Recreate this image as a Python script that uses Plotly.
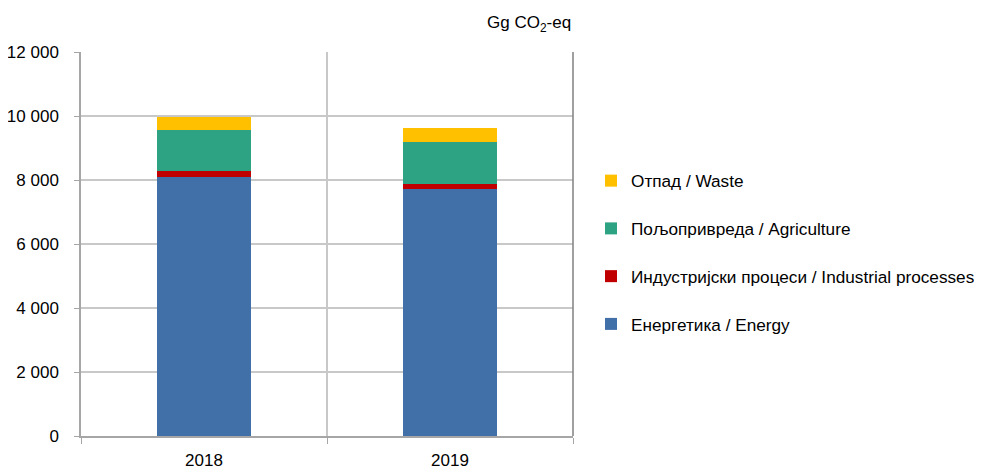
import plotly.graph_objects as go

years = ["2018", "2019"]
energy = [8100, 7720]
industrial = [180, 165]
agriculture = [1280, 1310]
waste = [420, 440]

series = [
    ("Енергетика / Energy", energy, "#4170a8"),
    ("Индустријски процеси / Industrial processes", industrial, "#c00000"),
    ("Пољопривреда / Agriculture", agriculture, "#2ea384"),
    ("Отпад / Waste", waste, "#ffc000"),
]

fig = go.Figure()
for i, (name, vals, col) in enumerate(series):
    fig.add_trace(go.Bar(x=years, y=vals, name=name, marker_color=col,
                         marker_line_width=0, legendgroup=str(i),
                         legendrank=len(series) - i))

fig.update_layout(
    barmode="stack",
    bargap=0.62,
    width=982, height=470,
    margin=dict(l=73, r=417, t=44, b=42, autoexpand=False),
    paper_bgcolor="white", plot_bgcolor="white",
    font=dict(family="Liberation Sans, Arial, sans-serif", size=17, color="#000000"),
    separators=", ",
    showlegend=True,
    legend=dict(traceorder="grouped", x=1.0366, xanchor="left", y=0.478, yanchor="middle",
                tracegroupgap=22.4, itemwidth=30, font=dict(size=17.2)),
    xaxis=dict(showline=True, linecolor="#a6a6a6", linewidth=1.5, tickson="boundaries",
               ticks="outside", ticklen=6, tickcolor="#a6a6a6", showgrid=True,
               gridcolor="#c8c8c8", gridwidth=1.5, ticklabelstandoff=8, fixedrange=True,
               automargin=False),
    yaxis=dict(range=[0, 12000], dtick=2000, tickformat=",", showline=True,
               linecolor="#a6a6a6", linewidth=1.5, ticks="outside", ticklen=5,
               tickcolor="#a6a6a6", showgrid=True, gridcolor="#c8c8c8", gridwidth=1.5,
               zeroline=False, ticklabelstandoff=12, automargin=False),
    annotations=[dict(text="Gg CO<sub>2</sub>-eq", xref="paper", yref="paper",
                      x=1.0, y=1.0, xanchor="right", yanchor="middle", yshift=28,
                      showarrow=False, font=dict(size=17))],
    shapes=[dict(type="line", xref="paper", yref="paper", x0=1, x1=1, y0=0, y1=1,
                 line=dict(color="#808080", width=1.5))],
)

fig.write_html("out.html")
